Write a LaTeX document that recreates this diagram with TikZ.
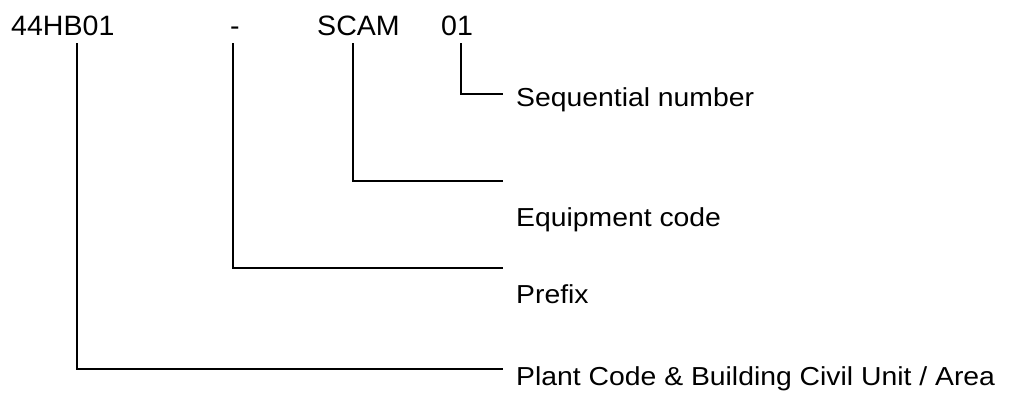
\documentclass[tikz,border=0pt]{standalone}
\usepackage{fontspec}
\setmainfont{Liberation Sans}
\newfontfamily\topfont[FakeStretch=1.02]{Liberation Sans}
\newfontfamily\descfont[FakeStretch=1.09]{Liberation Sans}
\begin{document}
\begin{tikzpicture}[x=1pt,y=-1pt,
  toplabel/.style={inner sep=0pt,anchor=base west,font=\topfont\fontsize{28}{32}\selectfont},
  desclabel/.style={inner sep=0pt,anchor=base west,font=\descfont\fontsize{26}{30}\selectfont},
  conn/.style={draw=black,line width=2pt}]
\useasboundingbox (0,0) rectangle (1018,394);
% top code parts
\node[toplabel] (plant) at (11,35) {44HB01};
\node[toplabel,anchor=base] (prefix) at (235,35) {-};
\node[toplabel] (equip) at (317,35) {SCAM};
\node[toplabel] (seq) at (441,35) {01};
% descriptions
\node[desclabel] (dseq) at (516,106) {Sequential number};
\node[desclabel] (dequip) at (516,226) {Equipment code};
\node[desclabel] (dprefix) at (516,303) {Prefix};
\node[desclabel] (dplant) at (516,385) {Plant Code \& Building Civil Unit / Area};
% connector end points
\coordinate (t1) at (77,43);
\coordinate (t2) at (233,43);
\coordinate (t3) at (353,43);
\coordinate (t4) at (461,43);
\coordinate (e1) at (503,369);
\coordinate (e2) at (503,268);
\coordinate (e3) at (503,181);
\coordinate (e4) at (503,94);
\draw[conn] (t1) |- (e1);
\draw[conn] (t2) |- (e2);
\draw[conn] (t3) |- (e3);
\draw[conn] (t4) |- (e4);
\end{tikzpicture}
\end{document}
